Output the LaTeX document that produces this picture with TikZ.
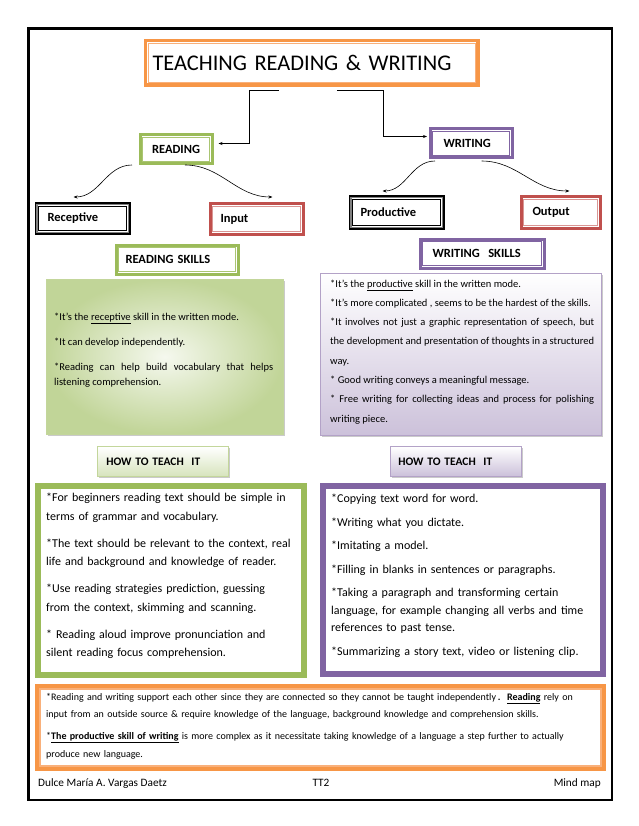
\documentclass[tikz,border=0pt]{standalone}
\usepackage{fontspec}
\setmainfont{Carlito}
\usetikzlibrary{arrows.meta,shadows}
\definecolor{org}{HTML}{F79646}
\definecolor{orgl}{HTML}{F9B07A}
\definecolor{grn}{HTML}{9BBB59}
\definecolor{grnl}{HTML}{C3D69B}
\definecolor{grnf}{HTML}{D7E4BD}
\definecolor{pur}{HTML}{8064A2}
\definecolor{purl}{HTML}{B3A2C7}
\definecolor{purf}{HTML}{CCC1DA}
\definecolor{rd}{HTML}{C0504D}
\definecolor{rdl}{HTML}{D99694}
\newcommand\inframe[4]{\draw[#2, line width=#4] ([shift={(#3,-#3)}]#1.north west) rectangle ([shift={(-#3,#3)}]#1.south east);}
\tikzset{
  lbl/.style={draw=#1, line width=3pt, inner ysep=0pt, anchor=north west, align=left,
    font=\bfseries\fontsize{12.5}{14}\selectfont},
  howbox/.style={draw=#1, line width=0.6pt, inner ysep=0pt, anchor=north west, align=left,
    font=\bfseries\fontsize{11.5}{13}\selectfont,
    drop shadow={shadow xshift=1.5pt, shadow yshift=-1.5pt, opacity=0.35, fill=black!60}},
  bigbox/.style={draw=#1, line width=4pt, inner sep=0pt, anchor=north west},
  conn/.style={-{Stealth[length=4pt,width=3pt]}, line width=0.6pt},
  txt/.style={inner sep=0pt, anchor=base west},
}
\begin{document}
\begin{tikzpicture}[x=1pt,y=-1pt]
\useasboundingbox (0,0) rectangle (638,826);
% outer frame
\node[draw=black, line width=2.4pt, inner sep=0pt, anchor=north west, minimum width=583.6pt, minimum height=771.6pt] (frame) at (27.2,27.2) {};
% title
\node[draw=org, line width=3.5pt, inner ysep=0pt, inner xsep=7pt, text width=318.5pt, minimum height=44.5pt, anchor=north west, align=left, font=\fontsize{22.4}{26}\selectfont] (title) at (143.75,38.75) {TEACHING READING \& WRITING};
\inframe{title}{orgl}{4.6pt}{1.2pt}
% reading / writing
\node[lbl=grn, inner xsep=2.5pt, text width=67pt, minimum height=29pt, align=center] (reading) at (138.5,133.5) {READING};
\inframe{reading}{grn!85}{4pt}{1.1pt}
\node[lbl=pur, inner xsep=13.5pt, text width=55pt, minimum height=29pt] (writing) at (428.5,127.5) {WRITING};
\inframe{writing}{pur}{4pt}{1pt}
% sub boxes
\node[lbl=black, inner xsep=11.5pt, text width=70pt, minimum height=29pt] (receptive) at (34.5,202.5) {Receptive};
\inframe{receptive}{gray}{2.4pt}{1.2pt}
\inframe{receptive}{black}{3.8pt}{0.8pt}
\node[lbl=rd, inner xsep=10.5pt, text width=72pt, minimum height=30pt] (input) at (208.5,202.5) {Input};
\inframe{input}{rdl}{4pt}{1.1pt}
\node[lbl=black, inner xsep=10.5pt, text width=72pt, minimum height=31pt] (productive) at (348.5,195.5) {Productive};
\inframe{productive}{gray}{2.4pt}{1.2pt}
\inframe{productive}{black}{3.8pt}{0.8pt}
\node[lbl=rd, inner xsep=11.5pt, text width=56pt, minimum height=31pt] (output) at (519.5,195.5) {Output};
\inframe{output}{rdl}{4pt}{1.1pt}
% skills headers
\node[lbl=grn, inner xsep=9.5pt, text width=103pt, minimum height=29pt] (readskills) at (114.5,243.5) {READING SKILLS};
\inframe{readskills}{grn!85}{4pt}{1.1pt}
\node[lbl=pur, inner xsep=12.5pt, text width=99pt, minimum height=29pt] (writeskills) at (418.5,237.5) {WRITING\ \ SKILLS};
\inframe{writeskills}{pur}{4pt}{1pt}
% skills panels
\node[draw=grnl, line width=0.4pt, inner sep=0pt, anchor=north west, minimum width=237pt, minimum height=155pt,
  inner color=grnf!25, outer color=grnl!95!grn,
  drop shadow={shadow xshift=1.5pt, shadow yshift=-1.5pt, opacity=0.35, fill=black!60}] (gskill) at (46,279) {};
\node[txt, text width=219pt, align=justify, font=\fontsize{10.5}{15}\selectfont] (gtext) at (54,320) {*It's the \underline{receptive} skill in the written mode.\\[10pt]
*It can develop independently.\\[10pt]
*Reading can help build vocabulary that helps\linebreak listening comprehension.};
\node[draw=purl, line width=0.5pt, inner sep=0pt, anchor=north west, minimum width=281pt, minimum height=162pt,
  top color=white, bottom color=purf,
  drop shadow={shadow xshift=1.5pt, shadow yshift=-1.5pt, opacity=0.35, fill=black!60}] (pskill) at (320,273) {};
\node[txt, text width=264pt, align=justify, font=\fontsize{10.5}{19.3}\selectfont] (ptext) at (330,287) {*It's the \underline{productive} skill in the written mode.\\\relax
*It's more complicated , seems to be the hardest of the skills.\\\relax
*It involves not just a graphic representation of speech, but\linebreak the development and presentation of thoughts in a structured\linebreak way.\\\relax
* Good writing conveys a meaningful message.\\\relax
* Free writing for collecting ideas and process for polishing\linebreak writing piece.};
% how to teach headers
\node[howbox=grnl, inner xsep=8.7pt, text width=113pt, minimum height=29.4pt, top color=white, bottom color=grnf] (how1) at (97.3,446.3) {HOW TO TEACH\ \ IT};
\node[howbox=purl, inner xsep=7.7pt, text width=115pt, minimum height=29.4pt, top color=white, bottom color=purf] (how2) at (390.3,446.3) {HOW TO TEACH\ \ IT};
% big boxes
\node[bigbox=grn, minimum width=268pt, minimum height=191pt] (gbig) at (35,483) {};
\inframe{gbig}{grn}{5pt}{1.2pt}
\node[txt, text width=252pt, align=left, font=\fontsize{12}{18.5}\selectfont] (gbigtext) at (46,501.5) {*For beginners reading text should be simple in\\ terms of grammar and vocabulary.\\[8.5pt]
*The text should be relevant to the context, real\\ life and background and knowledge of reader.\\[8.5pt]
*Use reading strategies prediction, guessing\\ from the context, skimming and scanning.\\[8.5pt]
* Reading aloud improve pronunciation and\\ silent reading focus comprehension.};
\node[bigbox=pur, minimum width=282pt, minimum height=190pt] (pbig) at (320,483) {};
\inframe{pbig}{pur}{5pt}{1.2pt}
\node[txt, text width=265pt, align=left, font=\fontsize{12}{17.5}\selectfont] (pbigtext) at (331,502.5) {*Copying text word for word.\\[6pt]
*Writing what you dictate.\\[6pt]
*Imitating a model.\\[6pt]
*Filling in blanks in sentences or paragraphs.\\[6pt]
*Taking a paragraph and transforming certain\\ language, for example changing all verbs and time\\ references to past tense.\\[6pt]
*Summarizing a story text, video or listening clip.};
\node[bigbox=org, minimum width=567pt, minimum height=83pt] (obig) at (35,684) {};
\inframe{obig}{orgl}{5pt}{1.2pt}
\node[txt, text width=552pt, align=left, font=\fontsize{10}{17.5}\selectfont] (otext) at (46,700) {*Reading and writing support each other since they are connected so they cannot be taught independently\,\textbf{.}\ \ \textbf{\underline{Reading}} rely on\\ input from an outside source \& require knowledge of the language, background knowledge and comprehension skills.\\[4.5pt]
*\textbf{\underline{The productive skill of writing}} is more complex as it necessitate taking knowledge of a language a step further to actually\\ produce new language.};
% footer
\node[txt, font=\fontsize{11.3}{13}\selectfont] (f1) at (38,786.5) {Dulce María A. Vargas Daetz};
\node[inner sep=0pt, anchor=base, font=\fontsize{11.3}{13}\selectfont] (f2) at (321,786.5) {TT2};
\node[inner sep=0pt, anchor=base east, font=\fontsize{11.3}{13}\selectfont] (f3) at (601,786.5) {Mind map};
% connectors
\draw[conn, shorten >=5pt] ([shift={(-33pt,-3.5pt)}]title.south) -- ++(-29,0) |- ([yshift=6pt]reading.east);
\draw[conn, shorten >=1.5pt] ([shift={(25pt,-3.5pt)}]title.south) -- ++(47,0) |- ([yshift=7pt]writing.west);
\draw[conn] ([shift={(-6.5pt,0.5pt)}]reading.south west) to[out=180,in=0] ([shift={(-9pt,5.5pt)}]receptive.north);
\draw[conn] ([shift={(9pt,0.5pt)}]reading.south) to[out=0,in=180] ([shift={(16pt,5.5pt)}]input.north);
\draw[conn] ([shift={(6.5pt,-1.5pt)}]writing.south west) to[out=180,in=0] ([shift={(-14pt,4.5pt)}]productive.north);
\draw[conn] ([shift={(10.5pt,-1.5pt)}]writing.south) to[out=0,in=180] ([shift={(9pt,4.5pt)}]output.north);
\end{tikzpicture}
\end{document}
